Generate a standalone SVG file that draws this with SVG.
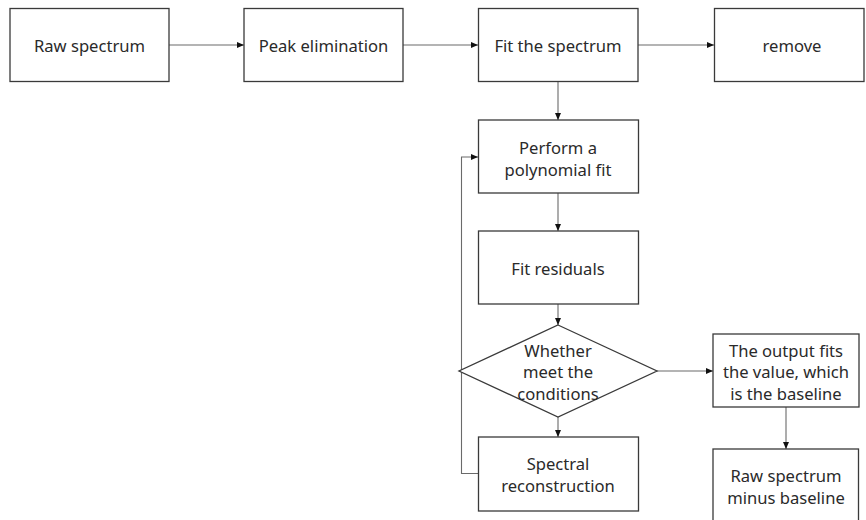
<svg xmlns="http://www.w3.org/2000/svg" width="866" height="520" viewBox="0 0 866 520">
<defs>
<style>
.box{fill:#fff;stroke:#3a3a3a;stroke-width:1.3}
.t{font-family:"Noto Sans","Noto Sans CJK SC",sans-serif;font-size:16.6px;fill:#2a2a2a;text-anchor:middle;dominant-baseline:central}
.c{fill:none;stroke:#6a6a6a;stroke-width:1.1}
</style>
<marker id="ah" markerWidth="8" markerHeight="8" refX="7" refY="4" orient="auto" markerUnits="userSpaceOnUse">
<path d="M0,1 L7,4 L0,7 Z" fill="#111"/>
</marker>
</defs>
<rect width="866" height="520" fill="#fff"/>
<g id="connectors">
<line class="c" x1="169" y1="45" x2="244" y2="45" marker-end="url(#ah)"/>
<line class="c" x1="403" y1="45" x2="478" y2="45" marker-end="url(#ah)"/>
<line class="c" x1="638" y1="45" x2="714" y2="45" marker-end="url(#ah)"/>
<line class="c" x1="558" y1="81" x2="558" y2="120" marker-end="url(#ah)"/>
<line class="c" x1="558" y1="193" x2="558" y2="231" marker-end="url(#ah)"/>
<line class="c" x1="558" y1="304" x2="558" y2="325" marker-end="url(#ah)"/>
<line class="c" x1="558" y1="417" x2="558" y2="437" marker-end="url(#ah)"/>
<line class="c" x1="657" y1="371" x2="713" y2="371" marker-end="url(#ah)"/>
<line class="c" x1="786" y1="407" x2="786" y2="449" marker-end="url(#ah)"/>
<polyline class="c" points="478,473.5 461.5,473.5 461.5,157 478,157" marker-end="url(#ah)"/>
</g>
<g id="raw">
<rect class="box" x="10" y="8.5" width="159" height="73"/>
<text class="t" x="89.5" y="45">Raw spectrum</text>
</g>
<g id="peak">
<rect class="box" x="244" y="8.5" width="159" height="73"/>
<text class="t" x="323.5" y="45">Peak elimination</text>
</g>
<g id="fit">
<rect class="box" x="478.5" y="8.5" width="159.5" height="73"/>
<text class="t" x="558" y="45">Fit the spectrum</text>
</g>
<g id="remove">
<rect class="box" x="714.5" y="8.5" width="149.5" height="73"/>
<text class="t" x="792" y="45">remove</text>
</g>
<g id="poly">
<rect class="box" x="478.5" y="120" width="160" height="73"/>
<text class="t" x="558" y="147">Perform a</text>
<text class="t" x="558" y="169">polynomial fit</text>
</g>
<g id="residuals">
<rect class="box" x="478.5" y="231" width="160" height="73"/>
<text class="t" x="558" y="268">Fit residuals</text>
</g>
<g id="cond">
<polygon class="box" points="558,325 657,371 558,417 459,371"/>
<text class="t" x="558" y="350">Whether</text>
<text class="t" x="558" y="371.5">meet the</text>
<text class="t" x="558" y="393">conditions</text>
</g>
<g id="recon">
<rect class="box" x="478.5" y="437" width="160" height="74"/>
<text class="t" x="558" y="463">Spectral</text>
<text class="t" x="558" y="485">reconstruction</text>
</g>
<g id="output">
<rect class="box" x="713" y="334" width="146" height="73"/>
<text class="t" x="786" y="350">The output fits</text>
<text class="t" x="786" y="371.5">the value, which</text>
<text class="t" x="786" y="393">is the baseline</text>
</g>
<g id="minus">
<rect class="box" x="713" y="449" width="145.5" height="74"/>
<text class="t" x="786" y="475">Raw spectrum</text>
<text class="t" x="786" y="497">minus baseline</text>
</g>
</svg>
